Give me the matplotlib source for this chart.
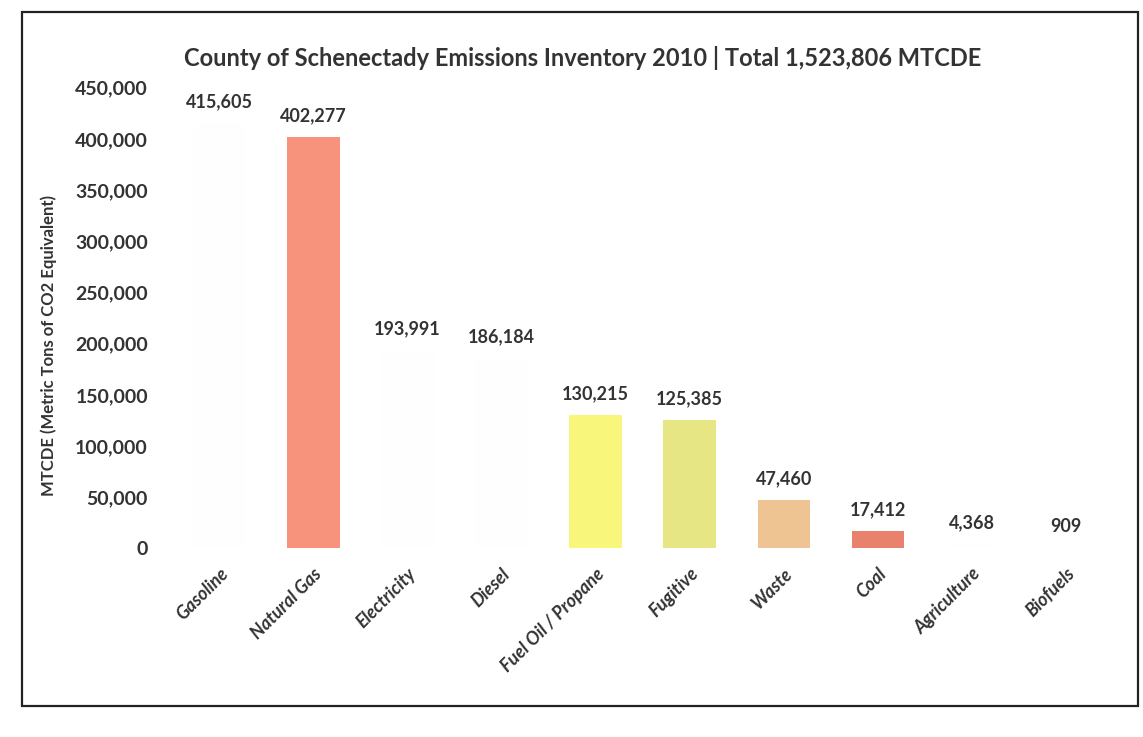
import numpy as np
import matplotlib
matplotlib.use("Agg")
import matplotlib.pyplot as plt
from matplotlib.patches import Rectangle

categories = ["Gasoline", "Natural Gas", "Electricity", "Diesel", "Fuel Oil / Propane",
              "Fugitive", "Waste", "Coal", "Agriculture", "Biofuels"]
values = [415605, 402277, 193991, 186184, 130215, 125385, 47460, 17412, 4368, 909]
# several bars faded out completely in the scanned original
colors = ["#fefefe", "#f7937c", "#fefefe", "#fefefe", "#f8f77c",
          "#e7e684", "#eec592", "#e9826d", "#fefefe", "#fefefe"]
yticks = [0, 50000, 100000, 150000, 200000, 250000, 300000, 350000, 400000, 450000]

plt.rcParams['font.family'] = ['Lato', 'DejaVu Sans']
fig = plt.figure(figsize=(11.43, 7.37), dpi=100)
ax = fig.add_axes([0.144, 0.256, 0.83, 0.625])

x = np.arange(len(categories))
ax.bar(x, values, width=0.56, color=colors)
for xi, v in zip(x, values):
    ax.annotate(f"{v:,}", (xi, v), xytext=(0, 9), textcoords="offset points",
                ha="center", va="bottom", fontsize=13, fontweight="bold", color="#333333")

ax.set_xlim(-0.58, 9.5)
ax.set_ylim(0, 450000)
ax.set_yticks(yticks)
ax.set_yticklabels([f"{t:,}" for t in yticks], fontsize=14, fontweight="bold", color="#333333")
ax.set_xticks(x)
ax.set_xticklabels(categories, rotation=45, ha="right", rotation_mode="anchor",
                   fontsize=13, fontweight="bold", fontstyle="italic", color="#333333")
ax.tick_params(length=0, axis="y", pad=12)
ax.tick_params(length=0, axis="x", pad=12)
for s in ax.spines.values():
    s.set_visible(False)
ax.set_ylabel("MTCDE (Metric Tons of CO2 Equivalent)", fontsize=12, fontweight="bold",
              color="#333333")
ax.yaxis.set_label_coords(-0.113, 0.44)
fig.text(0.51, 0.921, "County of Schenectady Emissions Inventory 2010 | Total 1,523,806 MTCDE",
         ha="center", va="center", fontsize=17, fontweight="bold", color="#333333")

fig.patches.append(Rectangle((22 / 1143, 1 - 706 / 737), (1138 - 22) / 1143, (706 - 12) / 737,
                             transform=fig.transFigure, fill=False, edgecolor="#222222",
                             linewidth=1.6))

fig.savefig("out.png", dpi=100)
